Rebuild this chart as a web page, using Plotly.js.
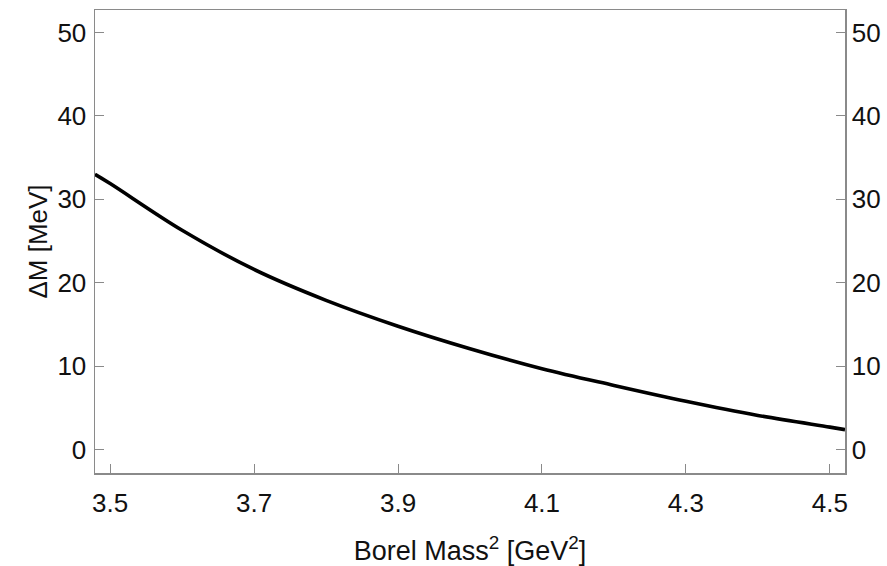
<!DOCTYPE html>
<html>
<head>
<meta charset="utf-8">
<script src="https://cdn.plot.ly/plotly-3.0.1.min.js"></script>
<style>html,body{margin:0;padding:0;background:#fff;}#plot{width:887px;height:566px;}</style>
</head>
<body>
<div id="plot"></div>
<script>
// Borel mass squared (GeV^2)
var borelMass2 = [3.479, 3.5, 3.6, 3.7, 3.8, 3.9, 4.0, 4.1, 4.2, 4.3, 4.4, 4.5, 4.521];
// Mass splitting ΔM (MeV)
var deltaM = [33.0, 31.9, 26.3, 21.6, 17.9, 14.8, 12.1, 9.7, 7.7, 5.8, 4.1, 2.7, 2.4];
var xTicks = [3.5, 3.7, 3.9, 4.1, 4.3, 4.5];
var xTickLabels = ["3.5", "3.7", "3.9", "4.1", "4.3", "4.5"];
var yTicks = [0, 10, 20, 30, 40, 50];
var yTickLabels = ["0", "10", "20", "30", "40", "50"];

var fontFam = "Liberation Sans, Arial, sans-serif";
var axisCol = "#8a8a8a";

var traces = [{
  x: borelMass2, y: deltaM, type: "scatter", mode: "lines",
  line: {color: "#000", width: 3.6, shape: "spline"},
  hoverinfo: "skip", showlegend: false
}, {
  // invisible copy so that the right-hand axis is drawn
  x: borelMass2, y: deltaM, type: "scatter", mode: "lines", yaxis: "y2",
  line: {color: "rgba(0,0,0,0)", width: 0}, opacity: 0,
  hoverinfo: "skip", showlegend: false
}];

var layout = {
  width: 887, height: 566,
  paper_bgcolor: "#fff", plot_bgcolor: "#fff",
  margin: {l: 95, r: 42, t: 10, b: 93},
  showlegend: false,
  xaxis: {
    range: [3.479, 4.521], showgrid: false, zeroline: false,
    showline: true, linecolor: axisCol, linewidth: 1.5, mirror: true,
    ticks: "inside", ticklen: 9, tickwidth: 1, tickcolor: axisCol,
    tickmode: "array", tickvals: xTicks, ticktext: xTickLabels,
    ticklabelstandoff: 6,
    tickfont: {family: fontFam, size: 26, color: "#111"},
    title: {text: "Borel Mass<sup style=\"font-size:20px\">2</sup> [GeV<sup style=\"font-size:20px\">2</sup>]", font: {family: fontFam, size: 27, color: "#111"}, standoff: 26}
  },
  yaxis: {
    range: [-2.8, 52.7], showgrid: false, zeroline: false,
    showline: true, linecolor: axisCol, linewidth: 1.5,
    ticks: "inside", ticklen: 9, tickwidth: 1, tickcolor: axisCol,
    tickmode: "array", tickvals: yTicks, ticktext: yTickLabels,
    ticklabelstandoff: 2,
    tickfont: {family: fontFam, size: 26, color: "#111"},
    title: {text: "ΔM [MeV]", font: {family: fontFam, size: 26, color: "#111"}, standoff: 2}
  },
  yaxis2: {
    overlaying: "y", side: "right", anchor: "x",
    range: [-2.8, 52.7], showgrid: false, zeroline: false,
    showline: true, linecolor: axisCol, linewidth: 1.5,
    ticks: "inside", ticklen: 9, tickwidth: 1, tickcolor: axisCol,
    tickmode: "array", tickvals: yTicks, ticktext: yTickLabels,
    ticklabelstandoff: 0,
    tickfont: {family: fontFam, size: 26, color: "#111"}
  }
};

Plotly.newPlot("plot", traces, layout, {staticPlot: true, displayModeBar: false});
</script>
</body>
</html>
